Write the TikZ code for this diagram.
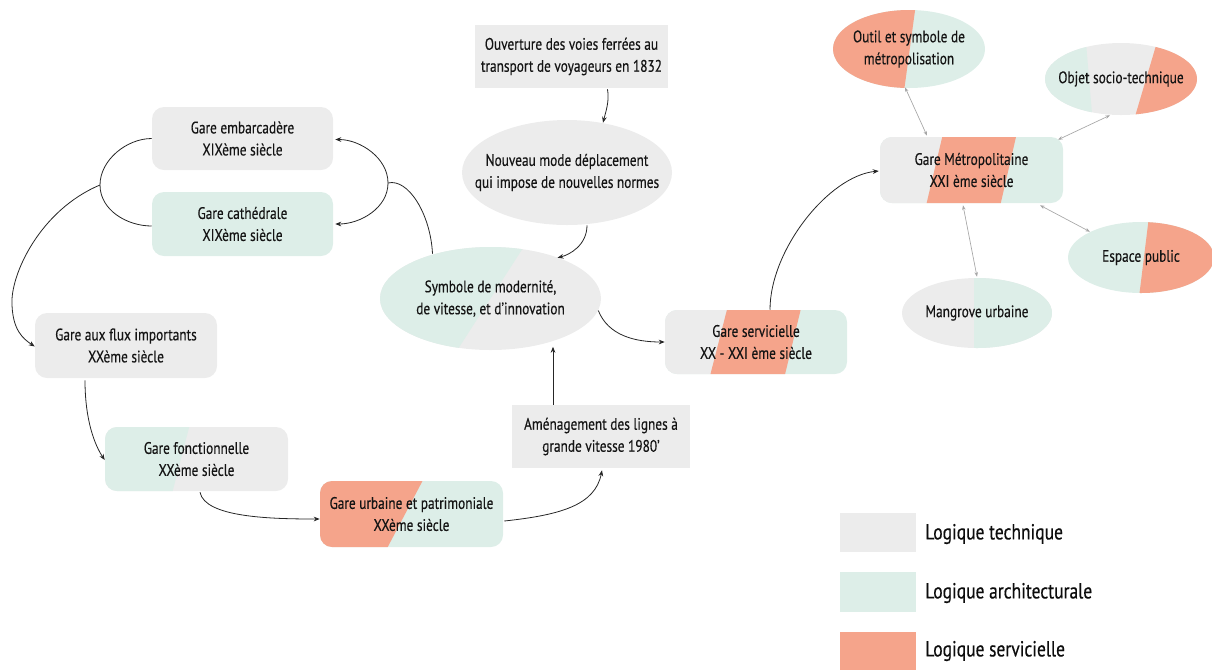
\documentclass[tikz,border=0pt]{standalone}
\usepackage{fontspec}
\setmainfont{PT Sans}[FakeStretch=0.8, FakeBold=0.35]
\usetikzlibrary{shapes.geometric,calc,arrows.meta}
\definecolor{tgray}{HTML}{ECECEC}
\definecolor{amint}{HTML}{DDEEE8}
\definecolor{ssalm}{HTML}{F5A48B}
\newcommand\myband[5]{\fill[#1, sharp corners] ($(path picture bounding box.north west)!#2!(path picture bounding box.north east)$) -- ($(path picture bounding box.north west)!#3!(path picture bounding box.north east)$) -- ($(path picture bounding box.south west)!#5!(path picture bounding box.south east)$) -- ($(path picture bounding box.south west)!#4!(path picture bounding box.south east)$) -- cycle;}
\tikzset{
  lbl/.style={font=\fontsize{12.5}{16.5}\selectfont, text=black!92, align=center, inner sep=0pt},
  rbox/.style={lbl, rectangle, rounded corners=9pt},
  sbox/.style={lbl, rectangle},
  ell/.style={lbl, ellipse, inner xsep=-16pt, inner ysep=-4pt},
  arr/.style={draw=black!85, line width=0.6pt, -{Stealth[length=4.5pt,width=3.5pt]}},
  ln/.style={draw=black!85, line width=0.6pt},
  garr/.style={draw=black!35, line width=0.5pt, {Stealth[length=3.5pt,width=2.6pt]}-{Stealth[length=3.5pt,width=2.6pt]}},
  legbox/.style={rectangle, inner sep=0pt, minimum width=57pt, minimum height=29.5pt},
  legt/.style={font=\fontsize{16.4}{20}\selectfont, text=black!95, inner sep=0pt, anchor=west}
}
\begin{document}
\begin{tikzpicture}[x=0.75pt,y=-0.75pt]
\useasboundingbox (0,0) rectangle (1212,669);

% nodes
\node[sbox, fill=tgray, minimum width=144.75pt, minimum height=47.25pt] (ouv) at (571.5,56.5) {Ouverture des voies ferrées au\\transport de voyageurs en 1832};
\node[ell, fill=tgray, minimum width=157.5pt, minimum height=78.75pt] (nouv) at (567,172.5) {Nouveau mode déplacement\\qui impose de nouvelles normes};
\node[ell, fill=tgray, minimum width=165.75pt, minimum height=77.25pt, path picture={\myband{amint}{0}{0.65}{0}{0.35}}] (symb) at (490.5,298.5) {Symbole de modernité,\\de vitesse, et d’innovation};
\node[rbox, fill=tgray, minimum width=135.75pt, minimum height=47.25pt] (emb) at (242.5,138.5) {Gare embarcadère\\XIXème siècle};
\node[rbox, fill=amint, minimum width=135.75pt, minimum height=48pt] (cath) at (242.5,224) {Gare cathédrale\\XIXème siècle};
\node[rbox, fill=tgray, minimum width=136.5pt, minimum height=48.75pt] (flux) at (126,345.5) {Gare aux flux importants\\XXème siècle};
\node[rbox, fill=tgray, minimum width=137.25pt, minimum height=48pt, path picture={\myband{amint}{0}{0.46}{0}{0.37}}] (fonc) at (196.5,459) {Gare fonctionnelle\\XXème siècle};
\node[rbox, fill=amint, minimum width=137.25pt, minimum height=49.5pt, path picture={\myband{ssalm}{0}{0.56}{0}{0.37}}] (urb) at (411.5,514) {Gare urbaine et patrimoniale\\XXème siècle};
\node[sbox, fill=tgray, minimum width=133.5pt, minimum height=47.25pt] (amen) at (601,436.5) {Aménagement des lignes à\\grande vitesse 1980’};
\node[rbox, fill=amint, minimum width=136.5pt, minimum height=48pt, path picture={\myband{tgray}{0}{0.34}{0}{0.25}\myband{ssalm}{0.34}{0.745}{0.25}{0.66}}] (serv) at (756,342) {Gare servicielle\\XX - XXI ème siècle};
\node[rbox, fill=amint, minimum width=137.25pt, minimum height=49.5pt, path picture={\myband{tgray}{0}{0.34}{0}{0.255}\myband{ssalm}{0.34}{0.743}{0.255}{0.66}}] (metro) at (971.5,170) {Gare Métropolitaine\\XXI ème siècle};
\node[ell, fill=amint, minimum width=114pt, minimum height=58.5pt, path picture={\myband{ssalm}{0}{0.54}{0}{0.47}}] (outil) at (909,49) {Outil et symbole de\\métropolisation};
\node[ell, fill=tgray, minimum width=114pt, minimum height=54pt, path picture={\myband{amint}{0}{0.27}{0}{0.31}\myband{ssalm}{0.735}{1}{0.595}{1}}] (objet) at (1121,79) {Objet socio-technique};
\node[ell, fill=amint, minimum width=109.5pt, minimum height=53.25pt, path picture={\myband{ssalm}{0.55}{1}{0.49}{1}}] (espace) at (1141,257.5) {Espace public};
\node[ell, fill=tgray, minimum width=112.5pt, minimum height=52.5pt, path picture={\myband{amint}{0.48}{1}{0.48}{1}}] (mang) at (977,313) {Mangrove urbaine};

% junctions
\coordinate (j1) at (388,183);
\coordinate (j2) at (100,185);

% connectors
\draw[arr] ($(ouv.south)+(36,1)$) .. controls +(2,12) and +(3,-12) .. ($(nouv.north)+(36,3)$);
\draw[arr] ($(nouv.south)+(20,0)$) .. controls +(0,20) and +(12,-3) .. ($(symb.north)+(67,11)$);
\draw[ln] ($(symb.north)+(-58,7)$) .. controls +(-2,-40) and +(20,-5) .. (j1);
\draw[arr] (j1) .. controls +(0,-25) and +(25,0) .. ($(emb.east)+(2,1)$);
\draw[arr] (j1) .. controls +(0,25) and +(25,0) .. ($(cath.east)+(2,0)$);
\draw[ln] (emb.west) .. controls +(-25,0) and +(0,-25) .. (j2);
\draw[ln] (j2) .. controls +(0,25) and +(-25,0) .. ($(cath.west)+(0,2)$);
\draw[arr] (j2) .. controls +(-60,25) and +(-2,-30) .. (12,305) .. controls +(1,25) and +(-12,-8) .. ($(flux.west)+(0,1)$);
\draw[arr] ($(flux.south)+(-41,2)$) .. controls +(0,40) and +(-10,-15) .. ($(fonc.west)+(0,1)$);
\draw[arr] ($(fonc.south)+(3.5,1)$) .. controls +(5,25) and +(-50,0) .. ($(urb.west)+(0,5)$);
\draw[arr] ($(urb.east)+(1,7)$) .. controls +(56,-6) and +(-7,35) .. ($(amen.south)+(1,2)$);
\draw[arr] ($(amen.north)+(-48,0)$) -- ++(0,-58);
\draw[arr] ($(symb.east)+(-3,12)$) .. controls +(10,25) and +(-30,0) .. (serv.west);
\draw[arr] ($(serv.north)+(14,0)$) .. controls +(0,-60) and +(-50,5) .. ($(metro.west)+(-1,1)$);

\draw[garr] ($(metro.north)+(-44.5,-1)$) -- ($(outil.south)+(-4,-1)$);
\draw[garr] ($(metro.north)+(86.5,3)$) -- ($(objet.south)+(-11,0)$);
\draw[garr] ($(metro.south)+(68.5,2)$) -- ($(espace.north)+(-51,10)$);
\draw[garr] ($(metro.south)+(-8.5,2)$) -- ($(mang.north)+(0,-1)$);

% legend
\node[legbox, fill=tgray] (lg1) at (878,532.5) {};
\node[legbox, fill=amint] (lg2) at (878,592) {};
\node[legbox, fill=ssalm] (lg3) at (878,652) {};
\node[legt] (lt1) at (925,534) {Logique technique};
\node[legt] (lt2) at (925,593) {Logique architecturale};
\node[legt] (lt3) at (925,651) {Logique servicielle};
\end{tikzpicture}
\end{document}
